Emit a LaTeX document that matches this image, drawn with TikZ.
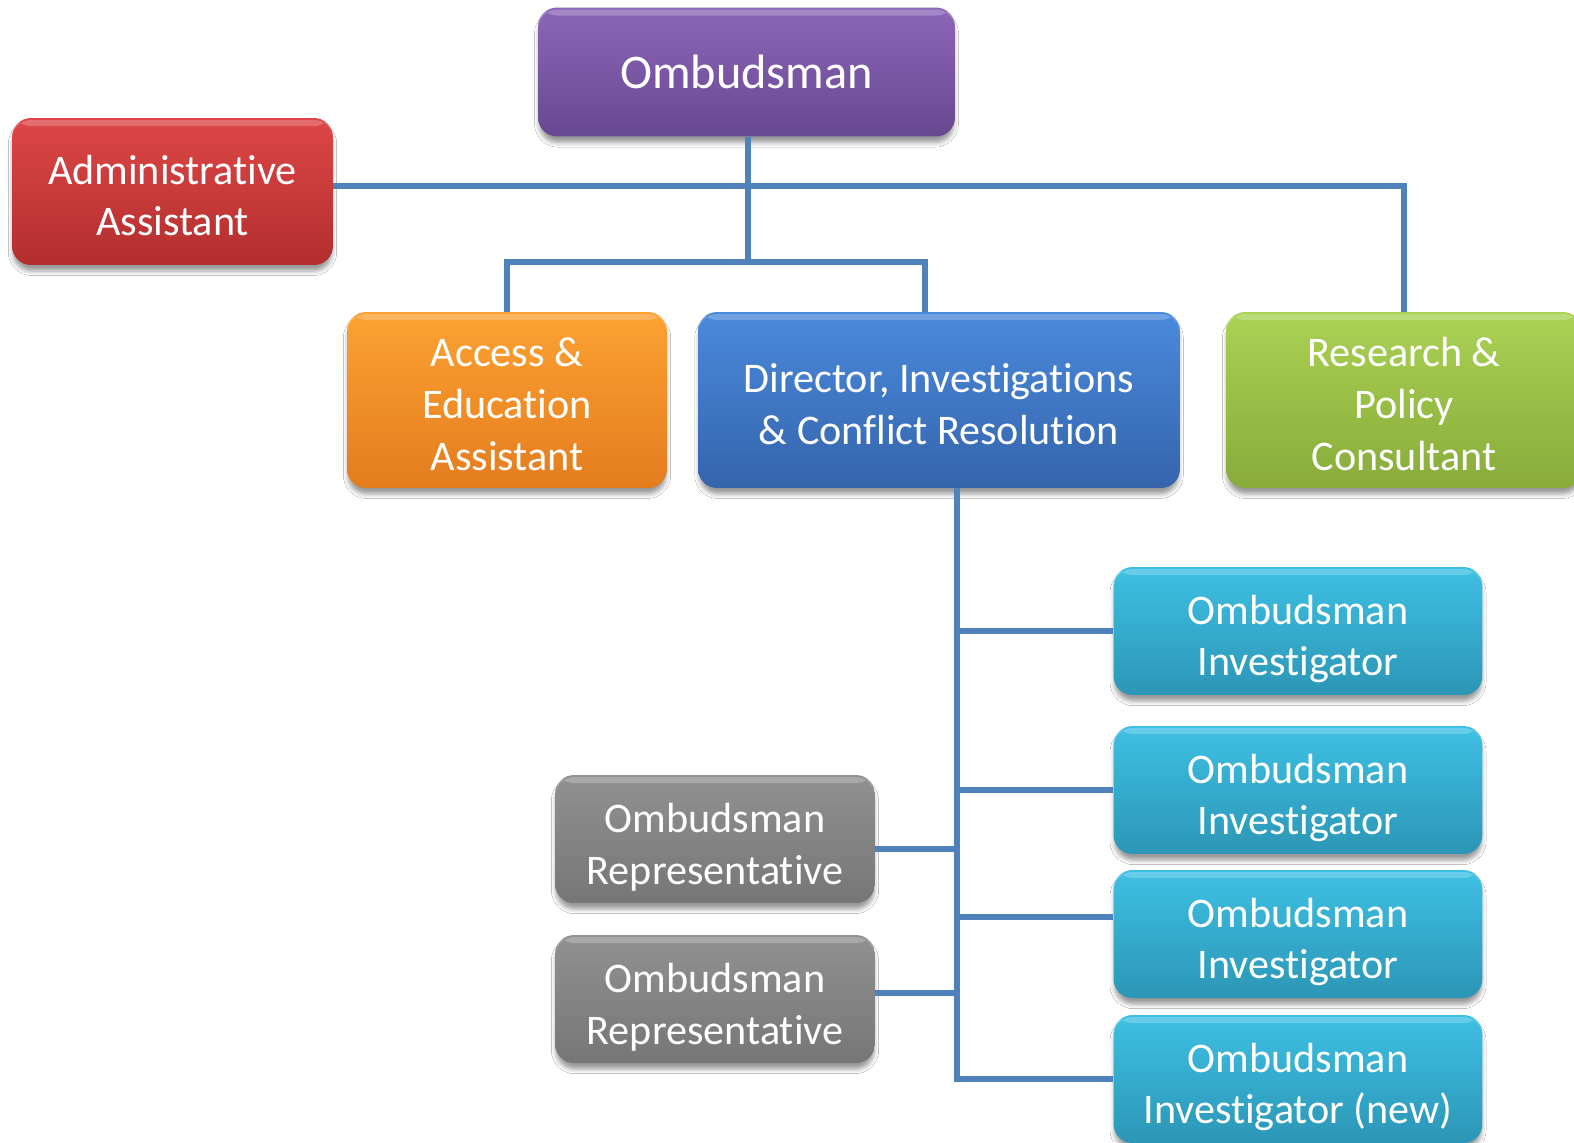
\documentclass[tikz,border=0pt]{standalone}
\usepackage{fontspec}
\setmainfont{Carlito}[Ligatures={NoCommon}]
\usetikzlibrary{shadows.blur}
\definecolor{linecol}{HTML}{4F81BD}
\definecolor{purT}{HTML}{8C66B8}
\definecolor{purB}{HTML}{684890}
\definecolor{redT}{HTML}{DE4646}
\definecolor{redB}{HTML}{B32E2E}
\definecolor{oraT}{HTML}{FCA232}
\definecolor{oraB}{HTML}{E47C1E}
\definecolor{bluT}{HTML}{4A8ADC}
\definecolor{bluB}{HTML}{3564AC}
\definecolor{grnT}{HTML}{AAD254}
\definecolor{grnB}{HTML}{88AB3A}
\definecolor{cyaT}{HTML}{3EC0E3}
\definecolor{cyaB}{HTML}{2C96B6}
\definecolor{gryT}{HTML}{919191}
\definecolor{gryB}{HTML}{767676}
\begin{document}
\begin{tikzpicture}[x=0.02cm,y=-0.02cm,
  box/.style={rectangle, rounded corners=0.38cm, inner sep=0pt,
    blur shadow={shadow xshift=0pt, shadow yshift=-0.13cm, shadow blur radius=0.09cm, shadow opacity=40, shadow scale=0.995},
    path picture={\fill[white, opacity=0.22] ([yshift=-0.04cm]path picture bounding box.north west) rectangle ([yshift=-0.16cm]path picture bounding box.north east);}},
  txt/.style={text=white, align=center, inner sep=0pt, font=\fontsize{24}{29.5}\selectfont},
  txtA/.style={txt, yshift=-0.08cm},
  txtB/.style={txt, yshift=-0.16cm},
  purplebox/.style={box, top color=purT, bottom color=purB},
  redbox/.style={box, top color=redT, bottom color=redB},
  orangebox/.style={box, top color=oraT, bottom color=oraB},
  bluebox/.style={box, top color=bluT, bottom color=bluB},
  greenbox/.style={box, top color=grnT, bottom color=grnB},
  cyanbox/.style={box, top color=cyaT, bottom color=cyaB, minimum width=7.38cm, minimum height=2.56cm},
  graybox/.style={box, top color=gryT, bottom color=gryB, minimum width=6.4cm, minimum height=2.56cm},
  conn/.style={draw=linecol, line width=3.1pt}
]
\useasboundingbox (0,0) rectangle (1574,1142);
\clip (0,0) rectangle (1574,1142);
\fill[white] (0,0) rectangle (1574,1142);

\coordinate (hub) at (748,262);
\coordinate (top) at (748,186);
\coordinate (dj) at (925,262);
\coordinate (sp) at (957,0);

% boxes
\node[purplebox, minimum width=8.34cm, minimum height=2.58cm,
  label={[txt, font=\fontsize{27.5}{32}\selectfont]center:Ombudsman}] (omb) at (746.5,72) {};
\node[redbox, minimum width=6.42cm, minimum height=2.94cm,
  label={[txtA]center:{Administrative\\Assistant}}] (admin) at (172.5,191.5) {};
\node[orangebox, minimum width=6.4cm, minimum height=3.52cm,
  label={[txtA]center:{Access \&\\Education\\Assistant}}] (access) at (507,400) {};
\node[bluebox, minimum width=9.64cm, minimum height=3.52cm,
  label={[txtA]center:{Director, Investigations\\\& Conflict Resolution}}] (director) at (939,400) {};
\node[greenbox, minimum width=7.12cm, minimum height=3.52cm,
  label={[txtA]center:{Research \&\\Policy\\Consultant}}] (research) at (1404,400) {};
\node[cyanbox, label={[txtB]center:{Ombudsman\\Investigator}}] (inv1) at (1298,631) {};
\node[cyanbox, label={[txtB]center:{Ombudsman\\Investigator}}] (inv2) at (1298,790) {};
\node[cyanbox, label={[txtB]center:{Ombudsman\\Investigator}}] (inv3) at (1298,934) {};
\node[cyanbox, label={[txtB]center:{Ombudsman\\Investigator (new)}}] (inv4) at (1298,1079) {};
\node[graybox, label={[txtB]center:{Ombudsman\\Representative}}] (rep1) at (715,839) {};
\node[graybox, label={[txtB]center:{Ombudsman\\Representative}}] (rep2) at (715,999) {};

% connectors
\draw[conn] (hub |- omb.south) -- (hub);
\draw[conn] (admin.east |- top) -- (top -| research.north) -- (research.north);
\draw[conn] (access.north) -- (access.north |- hub) -- (dj) -- (dj |- director.north);
\draw[conn] (sp |- director.south) -- (sp |- inv4.west) -- (inv4.west);
\draw[conn] (sp |- inv1.west) -- (inv1.west);
\draw[conn] (sp |- inv2.west) -- (inv2.west);
\draw[conn] ([yshift=0.34cm]inv3.west -| sp) -- ([yshift=0.34cm]inv3.west);
\draw[conn] ([yshift=-0.2cm]rep1.east) -- ([yshift=-0.2cm]rep1.east -| sp);
\draw[conn] ([yshift=0.12cm]rep2.east) -- ([yshift=0.12cm]rep2.east -| sp);
\end{tikzpicture}
\end{document}
